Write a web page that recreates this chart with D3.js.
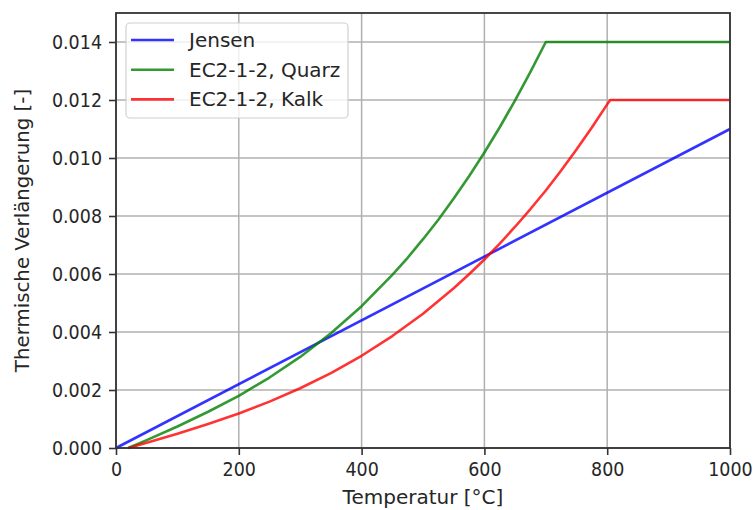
<html>
<head>
<script src="https://d3js.org/d3.v7.min.js"></script>
<style>
body { margin: 0; background: #fff; font-family: 'DejaVu Sans', sans-serif; }
svg text { fill: #262626; }
.tick text { transform-box: fill-box; transform-origin: center; transform: scaleY(1.15); }
</style>
</head>
<body>
<svg width="753" height="510"></svg>
<script>

// values
var jensenT = [0, 1000];
var jensenE = [0, 0.0110];

var quarzT = [20, 50, 100, 150, 200, 250, 300, 350, 400, 450, 475, 500, 525, 550, 575, 600, 625, 650, 675, 700, 1000];
var quarzE = [0, 0.00027, 0.00074, 0.00125, 0.00180, 0.00243, 0.00314, 0.00396, 0.00489,
              0.00597, 0.00656, 0.00720, 0.00787, 0.00860, 0.00937, 0.01019, 0.01106,
              0.01199, 0.01297, 0.0140, 0.0140];

var kalkT = [20, 50, 100, 150, 200, 250, 300, 350, 400, 450, 500, 550, 575, 600, 625, 650, 675, 700, 725, 750, 775, 800, 805, 1000];
var kalkE = [0, 0.00018, 0.00049, 0.00083, 0.00119, 0.00160, 0.00206, 0.00258, 0.00318, 0.00386,
             0.00463, 0.00551, 0.00599, 0.00650, 0.00705, 0.00763, 0.00824, 0.00888, 0.00957,
             0.01029, 0.01105, 0.01185, 0.0120, 0.0120];

var xTicks = [0, 200, 400, 600, 800, 1000];
var yTicks = [0, 0.002, 0.004, 0.006, 0.008, 0.010, 0.012, 0.014];

var series = [
  {name: "Jensen", color: "#0000ff", t: jensenT, e: jensenE},
  {name: "EC2-1-2, Quarz", color: "#008000", t: quarzT, e: quarzE},
  {name: "EC2-1-2, Kalk", color: "#ff0000", t: kalkT, e: kalkE}
];

var svg = d3.select("svg");
var pLeft = 116, pRight = 730, pTop = 13, pBottom = 448;

var x = d3.scaleLinear().domain([0, 1000]).range([pLeft, pRight]);
var y = d3.scaleLinear().domain([0, 0.015]).range([pBottom, pTop]);

// grid
svg.append("g").selectAll("line").data(xTicks).enter().append("line")
  .attr("x1", d => x(d)).attr("x2", d => x(d))
  .attr("y1", pTop).attr("y2", pBottom)
  .attr("stroke", "#b0b0b0").attr("stroke-width", 1.5);
svg.append("g").selectAll("line").data(yTicks).enter().append("line")
  .attr("x1", pLeft).attr("x2", pRight)
  .attr("y1", d => y(d)).attr("y2", d => y(d))
  .attr("stroke", "#b0b0b0").attr("stroke-width", 1.5);

// curves
var line = d3.line().x(d => x(d[0])).y(d => y(d[1]));
series.forEach(function(s) {
  svg.append("path")
    .datum(d3.zip(s.t, s.e))
    .attr("d", line)
    .attr("fill", "none")
    .attr("stroke", s.color)
    .attr("stroke-opacity", 0.8)
    .attr("stroke-width", 2.6)
    .attr("stroke-linejoin", "round");
});

// axes
var xAxis = d3.axisBottom(x).tickValues(xTicks).tickSize(7).tickPadding(8).tickFormat(d3.format("d"));
var yAxis = d3.axisLeft(y).tickValues(yTicks).tickSize(7).tickPadding(7).tickFormat(d3.format(".3f"));

var gx = svg.append("g").attr("transform", "translate(0," + pBottom + ")").call(xAxis);
var gy = svg.append("g").attr("transform", "translate(" + pLeft + ",0)").call(yAxis);
[gx, gy].forEach(function(g) {
  g.select(".domain").remove();
  g.selectAll(".tick line").attr("stroke", "#333").attr("stroke-width", 1.6);
  g.selectAll(".tick text").attr("font-family", "DejaVu Sans").attr("font-size", 17.5).attr("fill", "#262626");
});

// frame
svg.append("rect")
  .attr("x", pLeft).attr("y", pTop)
  .attr("width", pRight - pLeft).attr("height", pBottom - pTop)
  .attr("fill", "none").attr("stroke", "#333").attr("stroke-width", 1.8);

// labels
svg.append("text")
  .attr("x", (pLeft + pRight) / 2).attr("y", 504)
  .attr("text-anchor", "middle")
  .attr("font-size", 20)
  .text("Temperatur [°C]");

svg.append("text")
  .attr("transform", "translate(29," + (pTop + pBottom) / 2 + ") rotate(-90)")
  .attr("text-anchor", "middle")
  .attr("font-size", 19.8)
  .text("Thermische Verlängerung [-]");

// legend
var lg = svg.append("g");
lg.append("rect")
  .attr("x", 126).attr("y", 23).attr("width", 222).attr("height", 95)
  .attr("rx", 4)
  .attr("fill", "#fff").attr("fill-opacity", 0.8)
  .attr("stroke", "#d0d0d0").attr("stroke-width", 1.2);
series.forEach(function(s, i) {
  var ly = 40 + i * 29.7;
  lg.append("line")
    .attr("x1", 131).attr("x2", 174)
    .attr("y1", ly).attr("y2", ly)
    .attr("stroke", s.color).attr("stroke-opacity", 0.8).attr("stroke-width", 2.6);
  lg.append("text")
    .attr("x", 189).attr("y", ly + 7)
    .attr("font-size", 20)
    .text(s.name);
});

</script>
</body>
</html>
